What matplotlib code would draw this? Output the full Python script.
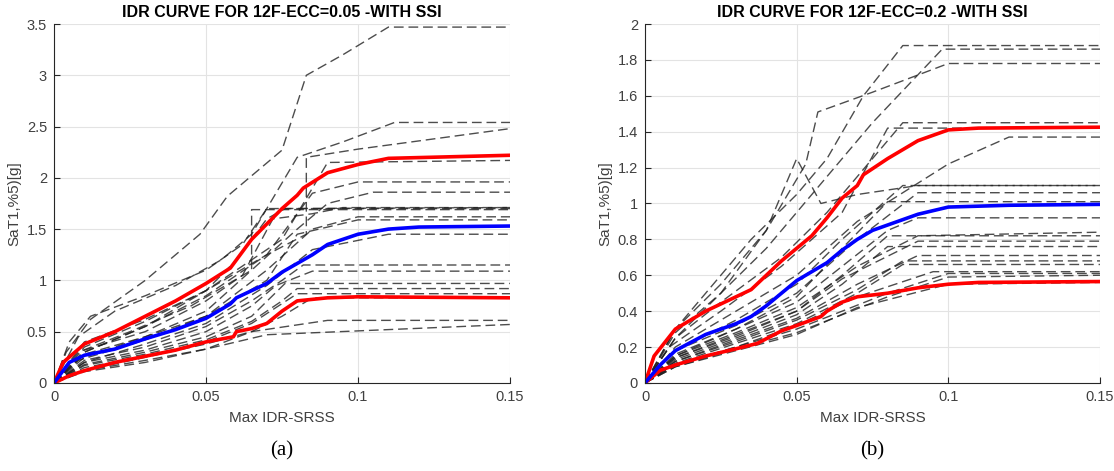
import matplotlib.pyplot as plt

plt.rcParams['font.family'] = ['Liberation Sans', 'DejaVu Sans']

# panel (a): ECC=0.05, dashed IDA curves (x = max IDR, y = SaT1)
a_curves = [
    ([0, 0.004, 0.012, 0.03, 0.048, 0.057, 0.075, 0.083, 0.095, 0.11, 0.15],
     [0, 0.3, 0.62, 1.0, 1.45, 1.82, 2.27, 3.0, 3.2, 3.47, 3.47]),
    ([0, 0.008, 0.02, 0.04, 0.055, 0.065, 0.08, 0.095, 0.112, 0.15],
     [0, 0.45, 0.7, 0.95, 1.2, 1.45, 2.2, 2.35, 2.54, 2.54]),
    ([0, 0.01, 0.03, 0.05, 0.07, 0.083, 0.083, 0.1, 0.15],
     [0, 0.4, 0.62, 0.9, 1.25, 1.45, 2.2, 2.28, 2.48]),
    ([0, 0.01, 0.03, 0.05, 0.065, 0.075, 0.085, 0.09, 0.15],
     [0, 0.35, 0.6, 0.9, 1.2, 1.4, 1.9, 2.15, 2.17]),
    ([0, 0.01, 0.03, 0.05, 0.07, 0.085, 0.1, 0.15],
     [0, 0.3, 0.55, 0.85, 1.25, 1.85, 1.96, 1.96]),
    ([0, 0.008, 0.025, 0.045, 0.065, 0.08, 0.09, 0.105, 0.15],
     [0, 0.3, 0.5, 0.75, 1.1, 1.5, 1.75, 1.86, 1.86]),
    ([0, 0.01, 0.03, 0.05, 0.062, 0.072, 0.085, 0.095, 0.15],
     [0, 0.32, 0.5, 0.8, 1.05, 1.6, 1.65, 1.71, 1.71]),
    ([0, 0.01, 0.03, 0.05, 0.065, 0.065, 0.15],
     [0, 0.28, 0.45, 0.7, 1.1, 1.69, 1.69]),
    ([0, 0.005, 0.012, 0.03, 0.05, 0.062, 0.07, 0.15],
     [0, 0.4, 0.65, 0.85, 1.1, 1.35, 1.7, 1.71]),
    ([0, 0.01, 0.03, 0.05, 0.07, 0.085, 0.1, 0.15],
     [0, 0.25, 0.45, 0.65, 1.1, 1.5, 1.62, 1.62]),
    ([0, 0.008, 0.03, 0.05, 0.07, 0.08, 0.1, 0.15],
     [0, 0.22, 0.42, 0.65, 1.0, 1.45, 1.59, 1.59]),
    ([0, 0.01, 0.03, 0.05, 0.07, 0.085, 0.11, 0.15],
     [0, 0.2, 0.38, 0.58, 0.95, 1.3, 1.45, 1.45]),
    ([0, 0.01, 0.03, 0.05, 0.065, 0.075, 0.082, 0.15],
     [0, 0.22, 0.35, 0.55, 0.8, 1.0, 1.15, 1.15]),
    ([0, 0.01, 0.03, 0.05, 0.065, 0.073, 0.085, 0.15],
     [0, 0.2, 0.32, 0.5, 0.75, 0.95, 1.09, 1.09]),
    ([0, 0.01, 0.03, 0.05, 0.065, 0.076, 0.15],
     [0, 0.18, 0.3, 0.45, 0.65, 0.97, 0.97]),
    ([0, 0.01, 0.03, 0.05, 0.065, 0.075, 0.08, 0.15],
     [0, 0.17, 0.28, 0.42, 0.6, 0.8, 0.92, 0.92]),
    ([0, 0.01, 0.03, 0.05, 0.065, 0.08, 0.15],
     [0, 0.15, 0.26, 0.4, 0.58, 0.87, 0.87]),
    ([0, 0.01, 0.03, 0.05, 0.065, 0.075, 0.085, 0.15],
     [0, 0.12, 0.25, 0.38, 0.5, 0.65, 0.83, 0.83]),
    ([0, 0.01, 0.03, 0.05, 0.065, 0.09, 0.15],
     [0, 0.12, 0.22, 0.33, 0.5, 0.61, 0.61]),
    ([0, 0.01, 0.03, 0.05, 0.07, 0.15],
     [0, 0.11, 0.2, 0.33, 0.47, 0.57]),
    ([0, 0.01, 0.03, 0.05, 0.06, 0.07, 0.076, 0.09, 0.15],
     [0, 0.3, 0.55, 0.9, 1.2, 1.6, 1.7, 1.7, 1.7]),
]
a_p84_x = [0, 0.003, 0.01, 0.02, 0.03, 0.04, 0.05, 0.058, 0.06, 0.065, 0.07, 0.075, 0.08, 0.082, 0.09, 0.1, 0.11, 0.15]
a_p84_y = [0, 0.2, 0.38, 0.5, 0.65, 0.8, 0.97, 1.12, 1.2, 1.4, 1.55, 1.7, 1.83, 1.9, 2.05, 2.13, 2.19, 2.22]
a_p50_x = [0, 0.005, 0.01, 0.02, 0.03, 0.04, 0.05, 0.058, 0.06, 0.07, 0.075, 0.085, 0.09, 0.1, 0.11, 0.12, 0.15]
a_p50_y = [0, 0.2, 0.27, 0.33, 0.43, 0.52, 0.63, 0.77, 0.83, 0.97, 1.08, 1.25, 1.35, 1.45, 1.5, 1.52, 1.53]
a_p16_x = [0, 0.005, 0.01, 0.02, 0.03, 0.04, 0.05, 0.059, 0.06, 0.065, 0.07, 0.075, 0.08, 0.09, 0.1, 0.15]
a_p16_y = [0, 0.07, 0.12, 0.2, 0.26, 0.32, 0.4, 0.45, 0.5, 0.53, 0.58, 0.7, 0.8, 0.83, 0.84, 0.83]

# panel (b): ECC=0.2
b_curves = [
    ([0, 0.01, 0.02, 0.035, 0.05, 0.06, 0.072, 0.085, 0.15],
     [0, 0.3, 0.5, 0.8, 1.05, 1.25, 1.6, 1.88, 1.88]),
    ([0, 0.01, 0.025, 0.04, 0.055, 0.075, 0.098, 0.15],
     [0, 0.28, 0.5, 0.75, 1.05, 1.45, 1.86, 1.86]),
    ([0, 0.01, 0.025, 0.04, 0.053, 0.057, 0.075, 0.1, 0.15],
     [0, 0.3, 0.55, 0.85, 1.22, 1.51, 1.62, 1.78, 1.78]),
    ([0, 0.01, 0.025, 0.045, 0.06, 0.075, 0.085, 0.15],
     [0, 0.25, 0.45, 0.7, 0.95, 1.25, 1.45, 1.45]),
    ([0, 0.008, 0.025, 0.045, 0.065, 0.08, 0.15],
     [0, 0.2, 0.4, 0.65, 0.95, 1.42, 1.42]),
    ([0, 0.01, 0.03, 0.05, 0.07, 0.1, 0.12, 0.15],
     [0, 0.2, 0.4, 0.6, 0.9, 1.22, 1.37, 1.37]),
    ([0, 0.01, 0.03, 0.05, 0.065, 0.075, 0.085, 0.15],
     [0, 0.18, 0.35, 0.55, 0.8, 0.95, 1.1, 1.1]),
    ([0, 0.01, 0.03, 0.05, 0.07, 0.09, 0.15],
     [0, 0.18, 0.32, 0.5, 0.8, 1.06, 1.06]),
    ([0, 0.01, 0.03, 0.05, 0.065, 0.08, 0.15],
     [0, 0.16, 0.3, 0.48, 0.75, 1.01, 1.01]),
    ([0, 0.01, 0.025, 0.04, 0.05, 0.058, 0.07, 0.09, 0.15],
     [0, 0.25, 0.5, 0.85, 1.25, 1.0, 1.05, 1.1, 1.1]),
    ([0, 0.01, 0.03, 0.05, 0.065, 0.08, 0.09, 0.15],
     [0, 0.15, 0.3, 0.45, 0.65, 0.85, 0.92, 0.92]),
    ([0, 0.01, 0.03, 0.05, 0.07, 0.09, 0.15],
     [0, 0.15, 0.28, 0.42, 0.65, 0.82, 0.84]),
    ([0, 0.01, 0.03, 0.05, 0.065, 0.08, 0.15],
     [0, 0.14, 0.27, 0.4, 0.6, 0.82, 0.82]),
    ([0, 0.01, 0.03, 0.05, 0.065, 0.09, 0.15],
     [0, 0.14, 0.26, 0.4, 0.58, 0.79, 0.79]),
    ([0, 0.01, 0.03, 0.05, 0.065, 0.08, 0.15],
     [0, 0.13, 0.25, 0.38, 0.55, 0.76, 0.76]),
    ([0, 0.01, 0.03, 0.05, 0.07, 0.09, 0.15],
     [0, 0.12, 0.24, 0.36, 0.55, 0.71, 0.71]),
    ([0, 0.01, 0.03, 0.05, 0.07, 0.085, 0.15],
     [0, 0.12, 0.23, 0.35, 0.52, 0.68, 0.68]),
    ([0, 0.01, 0.03, 0.05, 0.07, 0.085, 0.15],
     [0, 0.11, 0.22, 0.33, 0.5, 0.66, 0.66]),
    ([0, 0.01, 0.03, 0.05, 0.07, 0.095, 0.15],
     [0, 0.1, 0.2, 0.32, 0.48, 0.62, 0.62]),
    ([0, 0.01, 0.03, 0.05, 0.08, 0.1, 0.15],
     [0, 0.1, 0.2, 0.3, 0.5, 0.61, 0.61]),
    ([0, 0.01, 0.03, 0.05, 0.08, 0.1, 0.15],
     [0, 0.09, 0.19, 0.28, 0.48, 0.59, 0.6]),
    ([0, 0.01, 0.03, 0.05, 0.07, 0.1, 0.15],
     [0, 0.09, 0.18, 0.27, 0.42, 0.55, 0.56]),
]
b_p84_x = [0, 0.003, 0.01, 0.02, 0.03, 0.035, 0.04, 0.045, 0.05, 0.055, 0.06, 0.065, 0.07, 0.072, 0.08, 0.09, 0.1, 0.11, 0.15]
b_p84_y = [0, 0.15, 0.3, 0.4, 0.48, 0.52, 0.6, 0.68, 0.75, 0.82, 0.92, 1.03, 1.1, 1.16, 1.25, 1.35, 1.41, 1.42, 1.425]
b_p50_x = [0, 0.005, 0.01, 0.02, 0.03, 0.035, 0.04, 0.045, 0.05, 0.06, 0.065, 0.07, 0.075, 0.08, 0.09, 0.1, 0.12, 0.15]
b_p50_y = [0, 0.1, 0.18, 0.27, 0.33, 0.37, 0.43, 0.5, 0.57, 0.67, 0.74, 0.8, 0.85, 0.88, 0.94, 0.98, 0.99, 0.995]
b_p16_x = [0, 0.005, 0.01, 0.02, 0.03, 0.037, 0.045, 0.05, 0.058, 0.06, 0.065, 0.07, 0.08, 0.09, 0.1, 0.11, 0.15]
b_p16_y = [0, 0.07, 0.1, 0.15, 0.19, 0.22, 0.29, 0.32, 0.37, 0.4, 0.45, 0.48, 0.5, 0.53, 0.55, 0.56, 0.565]

xticks = [0, 0.05, 0.1, 0.15]
xticklabels = ['0', '0.05', '0.1', '0.15']
a_yticks = [0, 0.5, 1, 1.5, 2, 2.5, 3, 3.5]
a_yticklabels = ['0', '0.5', '1', '1.5', '2', '2.5', '3', '3.5']
b_yticks = [0, 0.2, 0.4, 0.6, 0.8, 1, 1.2, 1.4, 1.6, 1.8, 2]
b_yticklabels = ['0', '0.2', '0.4', '0.6', '0.8', '1', '1.2', '1.4', '1.6', '1.8', '2']

panels = [
    ('IDR CURVE FOR 12F-ECC=0.05 -WITH SSI', a_curves, (a_p84_x, a_p84_y), (a_p50_x, a_p50_y),
     (a_p16_x, a_p16_y), a_yticks, a_yticklabels, 3.5, '(a)'),
    ('IDR CURVE FOR 12F-ECC=0.2 -WITH SSI', b_curves, (b_p84_x, b_p84_y), (b_p50_x, b_p50_y),
     (b_p16_x, b_p16_y), b_yticks, b_yticklabels, 2.0, '(b)'),
]

fig = plt.figure(figsize=(11.14, 4.71), dpi=100)
positions = [[0.0485, 0.187, 0.4093, 0.762], [0.579, 0.187, 0.4084, 0.762]]
txt = '#404040'

for pos, (title, curves, p84, p50, p16, yt, ytl, ymax, tag) in zip(positions, panels):
    ax = fig.add_axes(pos)
    for cx, cy in curves:
        ax.plot(cx, cy, color='#202020', lw=1.0, alpha=0.8, linestyle=(0, (7, 3.5)))
    ax.plot(p84[0], p84[1], color='#ff0000', lw=2.6)
    ax.plot(p16[0], p16[1], color='#ff0000', lw=2.6)
    ax.plot(p50[0], p50[1], color='#0000ff', lw=2.6)

    ax.set_xlim(0, 0.15)
    ax.set_ylim(0, ymax)
    ax.set_xticks(xticks)
    ax.set_xticklabels(xticklabels)
    ax.set_yticks(yt)
    ax.set_yticklabels(ytl)
    ax.grid(True, color='#e3e3e3', lw=0.8)
    ax.set_axisbelow(True)
    for s in ['top', 'right']:
        ax.spines[s].set_visible(False)
    for s in ['left', 'bottom']:
        ax.spines[s].set_color('#262626')
        ax.spines[s].set_linewidth(0.8)
    ax.tick_params(direction='in', length=4, width=0.8, colors='#262626',
                   labelcolor=txt, labelsize=10.5, pad=5)
    ax.set_title(title, fontsize=11.5, fontweight='bold', color='black', pad=5)
    ax.set_xlabel('Max IDR-SRSS', fontsize=11, color=txt, labelpad=5)
    ax.set_ylabel('SaT1,%5)[g]', fontsize=11, color=txt, labelpad=4)
    ax.text(0.5, -0.19, tag, transform=ax.transAxes, ha='center', va='center',
            fontsize=15, family='Liberation Serif', color='black')

fig.savefig('out.png', dpi=100)
